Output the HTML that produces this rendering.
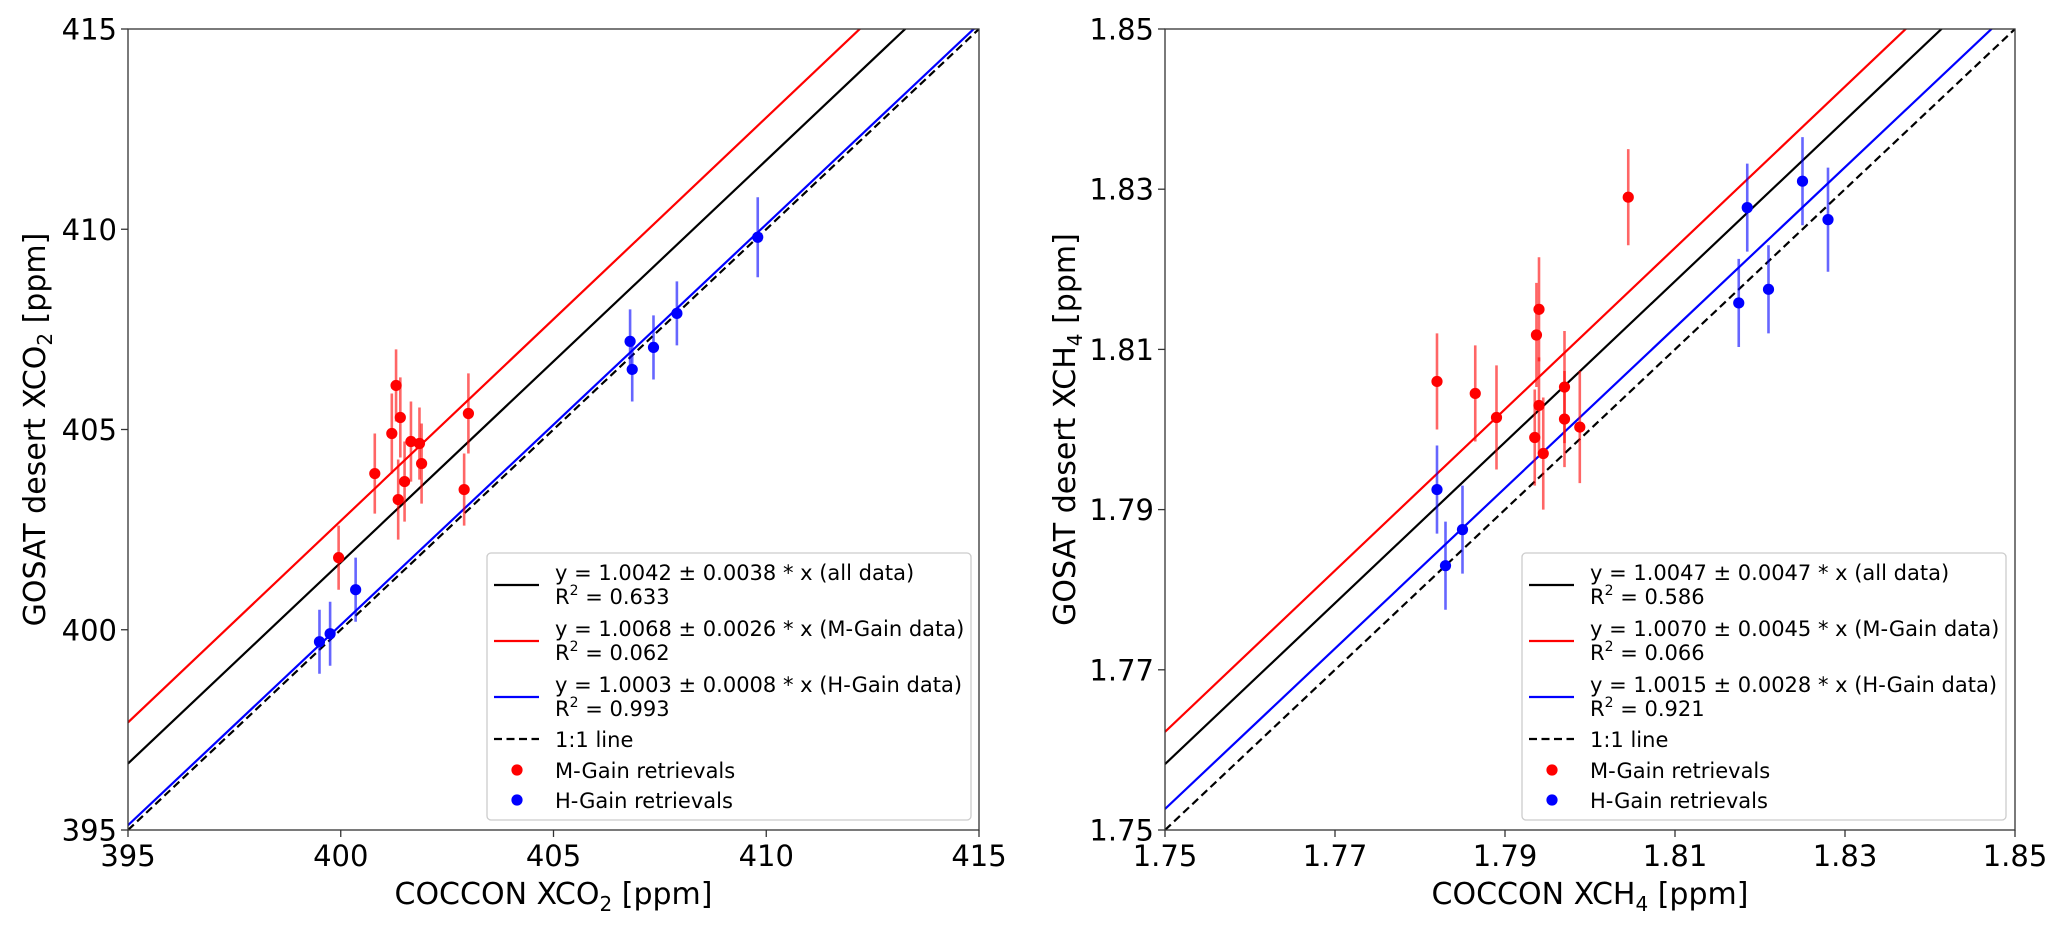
<!DOCTYPE html>
<html><head><meta charset="utf-8"><style>
html,body{margin:0;padding:0;background:#fff}
svg{display:block}
text{font-family:"DejaVu Sans","Liberation Sans",sans-serif;fill:#000}
</style></head><body>
<svg id="chart" width="2067" height="930" viewBox="0 0 2067 930" xmlns="http://www.w3.org/2000/svg"></svg>
<script>
// ---- Left panel data (XCO2) ----
const co2Ticks = [395, 400, 405, 410, 415];
const co2TickLabels = ["395", "400", "405", "410", "415"];
const co2MX = [399.95, 400.8, 401.2, 401.3, 401.4, 401.35, 401.5, 401.65, 401.85, 401.9, 402.9, 403.0];
const co2MY = [401.8, 403.9, 404.9, 406.1, 405.3, 403.25, 403.7, 404.7, 404.65, 404.15, 403.5, 405.4];
const co2MErr = [0.8, 1.0, 1.0, 0.9, 1.0, 1.0, 1.0, 1.0, 0.9, 1.0, 0.9, 1.0];
const co2HX = [399.5, 399.75, 400.35, 406.8, 406.85, 407.35, 407.9, 409.8];
const co2HY = [399.7, 399.9, 401.0, 407.2, 406.5, 407.05, 407.9, 409.8];
const co2HErr = [0.8, 0.8, 0.8, 0.8, 0.8, 0.8, 0.8, 1.0];
const co2Slopes = [1.0042, 1.0068, 1.0003, 1.0];
const co2Legend = ["y = 1.0042 ± 0.0038 * x (all data)", "0.633", "y = 1.0068 ± 0.0026 * x (M-Gain data)", "0.062", "y = 1.0003 ± 0.0008 * x (H-Gain data)", "0.993"];

// ---- Right panel data (XCH4) ----
const ch4Ticks = [1.75, 1.77, 1.79, 1.81, 1.83, 1.85];
const ch4TickLabels = ["1.75", "1.77", "1.79", "1.81", "1.83", "1.85"];
const ch4MX = [1.782, 1.7865, 1.789, 1.7935, 1.7937, 1.794, 1.794, 1.7945, 1.797, 1.797, 1.7988, 1.8045];
const ch4MY = [1.806, 1.8045, 1.8015, 1.799, 1.8118, 1.815, 1.803, 1.797, 1.8053, 1.8013, 1.8003, 1.829];
const ch4MErr = [0.006, 0.006, 0.0065, 0.006, 0.0065, 0.0065, 0.006, 0.007, 0.007, 0.006, 0.007, 0.006];
const ch4HX = [1.782, 1.783, 1.785, 1.8175, 1.8185, 1.821, 1.825, 1.828];
const ch4HY = [1.7925, 1.783, 1.7875, 1.8158, 1.8277, 1.8175, 1.831, 1.8262];
const ch4HErr = [0.0055, 0.0055, 0.0055, 0.0055, 0.0055, 0.0055, 0.0055, 0.0065];
const ch4Slopes = [1.0047, 1.0070, 1.0015, 1.0];
const ch4Legend = ["y = 1.0047 ± 0.0047 * x (all data)", "0.586", "y = 1.0070 ± 0.0045 * x (M-Gain data)", "0.066", "y = 1.0015 ± 0.0028 * x (H-Gain data)", "0.921"];

const NS = "http://www.w3.org/2000/svg";
const svg = document.getElementById("chart");
function mk(tag, attrs, parent) {
  const e = document.createElementNS(NS, tag);
  for (const k in attrs) e.setAttribute(k, attrs[k]);
  (parent || svg).appendChild(e);
  return e;
}

function panel(cfg) {
  const g = mk("g", {});
  
  
  const {x0, x1, y0, y1, lo, hi} = cfg;
  const sx = v => x0 + (v - lo) / (hi - lo) * (x1 - x0);
  const sy = v => y1 - (v - lo) / (hi - lo) * (y1 - y0);
  const clip = "clip-" + cfg.name;
  const cp = mk("clipPath", {id: clip}, g);
  mk("rect", {x: x0, y: y0, width: x1 - x0, height: y1 - y0}, cp);
  const plot = mk("g", {"clip-path": "url(#" + clip + ")"}, g);
  
  

  const colors = ["#000", "#f00", "#00f", "#000"];
  const names = ["fit-line-all", "fit-line-m-gain", "fit-line-h-gain", "one-to-one-line"];
  cfg.slopes.forEach((s, i) => {
    const l = mk("line", {x1: sx(lo), y1: sy(s * lo), x2: sx(hi), y2: sy(s * hi), stroke: colors[i], "stroke-width": 2.2, "stroke-dasharray": i === 3 ? "8,4.5" : "none"}, plot);
    
    
  });
  function series(xs, ys, es, col, nm) {
    xs.forEach((xv, i) => {
      const eb = mk("line", {x1: sx(xv), x2: sx(xv), y1: sy(ys[i] - es[i]), y2: sy(ys[i] + es[i]), stroke: col, "stroke-width": 2.6, "stroke-opacity": 0.6}, plot);
      
      
    });
    xs.forEach((xv, i) => {
      const c = mk("circle", {cx: sx(xv), cy: sy(ys[i]), r: 5.6, fill: col}, plot);
      
      
    });
  }
  series(cfg.hx, cfg.hy, cfg.he, "#0000ff", "h-gain");
  series(cfg.mx, cfg.my, cfg.me, "#ff0000", "m-gain");

  const fr = mk("rect", {x: x0, y: y0, width: x1 - x0, height: y1 - y0, fill: "none", stroke: "#333", "stroke-width": 1.3}, g);
  
  
  cfg.ticks.forEach((t, i) => {
    mk("line", {x1: sx(t), x2: sx(t), y1: y1, y2: y1 + 7, stroke: "#333", "stroke-width": 1.3}, g);
    const tx = mk("text", {x: sx(t), y: y1 + 36, "text-anchor": "middle", "font-size": 29}, g);
    tx.textContent = cfg.labels[i];
    
    
    mk("line", {x1: x0 - 7, x2: x0, y1: sy(t), y2: sy(t), stroke: "#333", "stroke-width": 1.3}, g);
    const ty = mk("text", {x: x0 - 11, y: sy(t) + 10.5, "text-anchor": "end", "font-size": 29}, g);
    ty.textContent = cfg.labels[i];
    
    
  });
  const xt = mk("text", {x: (x0 + x1) / 2, y: 904, "text-anchor": "middle", "font-size": 30}, g);
  xt.innerHTML = 'COCCON X' + cfg.gas + '<tspan font-size="20" dy="7">' + cfg.sub + '</tspan><tspan dy="-7"> [ppm]</tspan>';
  
  
  const cy = (y0 + y1) / 2;
  const yt = mk("text", {x: cfg.ylx, y: cy, "text-anchor": "middle", "font-size": 30, transform: "rotate(-90 " + cfg.ylx + " " + cy + ")"}, g);
  yt.innerHTML = 'GOSAT desert X' + cfg.gas + '<tspan font-size="20" dy="7">' + cfg.sub + '</tspan><tspan dy="-7"> [ppm]</tspan>';
  
  

  const lg = mk("g", {}, g);
  
  
  const lx = cfg.legX;
  mk("rect", {x: lx, y: 553, width: 484, height: 267, rx: 4, fill: "#fff", "fill-opacity": 0.85, stroke: "#ccc", "stroke-width": 1.3}, lg);
  const rows = [[572, 596, 585], [628, 652, 641], [684, 708, 697]];
  rows.forEach((r, i) => {
    const e = mk("g", {}, lg);
    
    
    mk("line", {x1: lx + 7, x2: lx + 52, y1: r[2], y2: r[2], stroke: colors[i], "stroke-width": 2.2}, e);
    const t1 = mk("text", {x: lx + 68, y: r[0] + 8, "font-size": 21}, e);
    t1.textContent = cfg.legend[i * 2];
    const t2 = mk("text", {x: lx + 68, y: r[1] + 8, "font-size": 21}, e);
    t2.innerHTML = 'R<tspan font-size="14" dy="-9">2</tspan><tspan dy="9"> = ' + cfg.legend[i * 2 + 1] + '</tspan>';
  });
  const e4 = mk("g", {}, lg);
  
  
  mk("line", {x1: lx + 7, x2: lx + 52, y1: 739, y2: 739, stroke: "#000", "stroke-width": 2.2, "stroke-dasharray": "8,4.5"}, e4);
  mk("text", {x: lx + 68, y: 747, "font-size": 21}, e4).textContent = "1:1 line";
  const e5 = mk("g", {}, lg);
  
  
  mk("circle", {cx: lx + 30, cy: 770, r: 5.6, fill: "#f00"}, e5);
  mk("text", {x: lx + 68, y: 778, "font-size": 21}, e5).textContent = "M-Gain retrievals";
  const e6 = mk("g", {}, lg);
  
  
  mk("circle", {cx: lx + 30, cy: 800, r: 5.6, fill: "#00f"}, e6);
  mk("text", {x: lx + 68, y: 808, "font-size": 21}, e6).textContent = "H-Gain retrievals";
}

panel({name: "xco2-panel", x0: 128, x1: 979, y0: 29, y1: 830, lo: 395, hi: 415, ticks: co2Ticks, labels: co2TickLabels,
  mx: co2MX, my: co2MY, me: co2MErr, hx: co2HX, hy: co2HY, he: co2HErr, slopes: co2Slopes, legend: co2Legend,
  gas: "CO", sub: "2", ylx: 45, legX: 487});
panel({name: "xch4-panel", x0: 1165, x1: 2015, y0: 29, y1: 830, lo: 1.75, hi: 1.85, ticks: ch4Ticks, labels: ch4TickLabels,
  mx: ch4MX, my: ch4MY, me: ch4MErr, hx: ch4HX, hy: ch4HY, he: ch4HErr, slopes: ch4Slopes, legend: ch4Legend,
  gas: "CH", sub: "4", ylx: 1075, legX: 1522});
</script>
</body></html>
